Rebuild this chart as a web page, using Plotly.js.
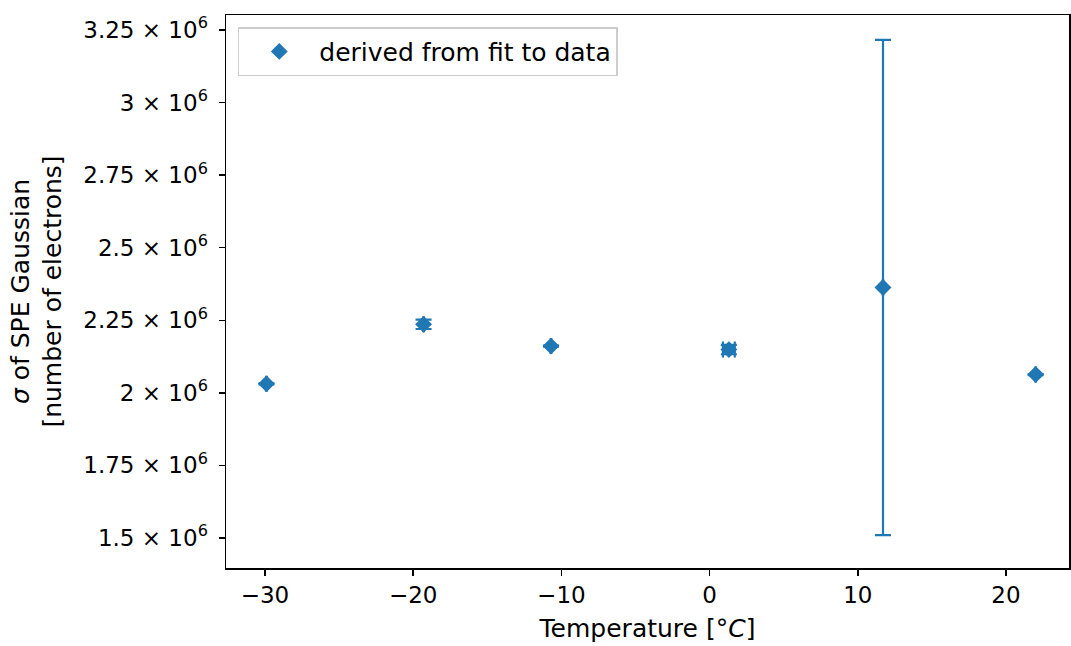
<!DOCTYPE html>
<html>
<head>
<meta charset="utf-8">
<script src="https://cdn.plot.ly/plotly-3.0.1.min.js"></script>
<style>html,body{margin:0;padding:0;background:#fff;}#chart{width:1071px;height:646px;}</style>
</head>
<body>
<div id="chart"></div>
<script>
const temperatures = [-29.9, -19.3, -10.7, 1.3, 11.7, 22.0];
const temperatureErrors = [0.02, 0.02, 0.02, 0.4, 0.02, 0.02];
const sigmaValues = [2.031e6, 2.236e6, 2.161e6, 2.149e6, 2.363e6, 2.063e6];
const sigmaErrors = [0.002e6, 0.016e6, 0.002e6, 0.016e6, 0.853e6, 0.002e6];
const yTickVals = [1.5e6, 1.75e6, 2e6, 2.25e6, 2.5e6, 2.75e6, 3e6, 3.25e6];
const yTickText = ['1.5 × 10<sup>6</sup>', '1.75 × 10<sup>6</sup>', '2 × 10<sup>6</sup>', '2.25 × 10<sup>6</sup>', '2.5 × 10<sup>6</sup>', '2.75 × 10<sup>6</sup>', '3 × 10<sup>6</sup>', '3.25 × 10<sup>6</sup>'];
const xTickVals = [-30, -20, -10, 0, 10, 20];
const xTickText = ['−30', '−20', '−10', '0', '10', '20'];
const seriesName = 'derived from fit to data';

const color = '#1f77b4';
const trace = {
  x: temperatures,
  y: sigmaValues,
  type: 'scatter',
  mode: 'markers',
  name: seriesName,
  marker: {symbol: 'diamond', size: 13, color: color},
  error_y: {type: 'data', array: sigmaErrors, visible: true, color: color, thickness: 2.2, width: 8},
  error_x: {type: 'data', array: temperatureErrors, visible: true, color: color, thickness: 2.2, width: 8},
  showlegend: true
};

const tickFont = {family: 'DejaVu Sans, sans-serif', size: 23, color: '#000'};
const titleFont = {family: 'DejaVu Sans, sans-serif', size: 25, color: '#000'};
const layout = {
  width: 1071, height: 646,
  margin: {l: 226, r: 2, t: 15, b: 78},
  paper_bgcolor: '#fff', plot_bgcolor: '#fff',
  font: tickFont,
  showlegend: true,
  legend: {
    x: 0.014, y: 0.978, xanchor: 'left', yanchor: 'top',
    bordercolor: '#cccccc', borderwidth: 1.5, bgcolor: 'rgba(255,255,255,0.8)',
    itemwidth: 70,
    font: titleFont
  },
  xaxis: {
    range: [-32.63, 24.25],
    tickvals: xTickVals, ticktext: xTickText,
    ticks: 'outside', ticklen: 6, tickwidth: 1.5, tickcolor: '#000',
    showline: true, linecolor: '#000', linewidth: 1.5, mirror: true,
    showgrid: false, zeroline: false,
    tickfont: tickFont,
    title: {text: 'Temperature [°<i>C</i>]', font: titleFont, standoff: 12}
  },
  yaxis: {
    range: [1.3966e6, 3.3017e6],
    tickvals: yTickVals, ticktext: yTickText,
    ticks: 'outside', ticklen: 6, tickwidth: 1.5, tickcolor: '#000',
    showline: true, linecolor: '#000', linewidth: 1.5, mirror: true,
    showgrid: false, zeroline: false,
    tickfont: tickFont,
    ticklabelstandoff: 6,
    title: {text: '<i>σ</i> of SPE Gaussian<br>[number of electrons]', font: titleFont, standoff: 14}
  }
};

Plotly.newPlot('chart', [trace], layout, {displayModeBar: false, staticPlot: true});
</script>
</body>
</html>
